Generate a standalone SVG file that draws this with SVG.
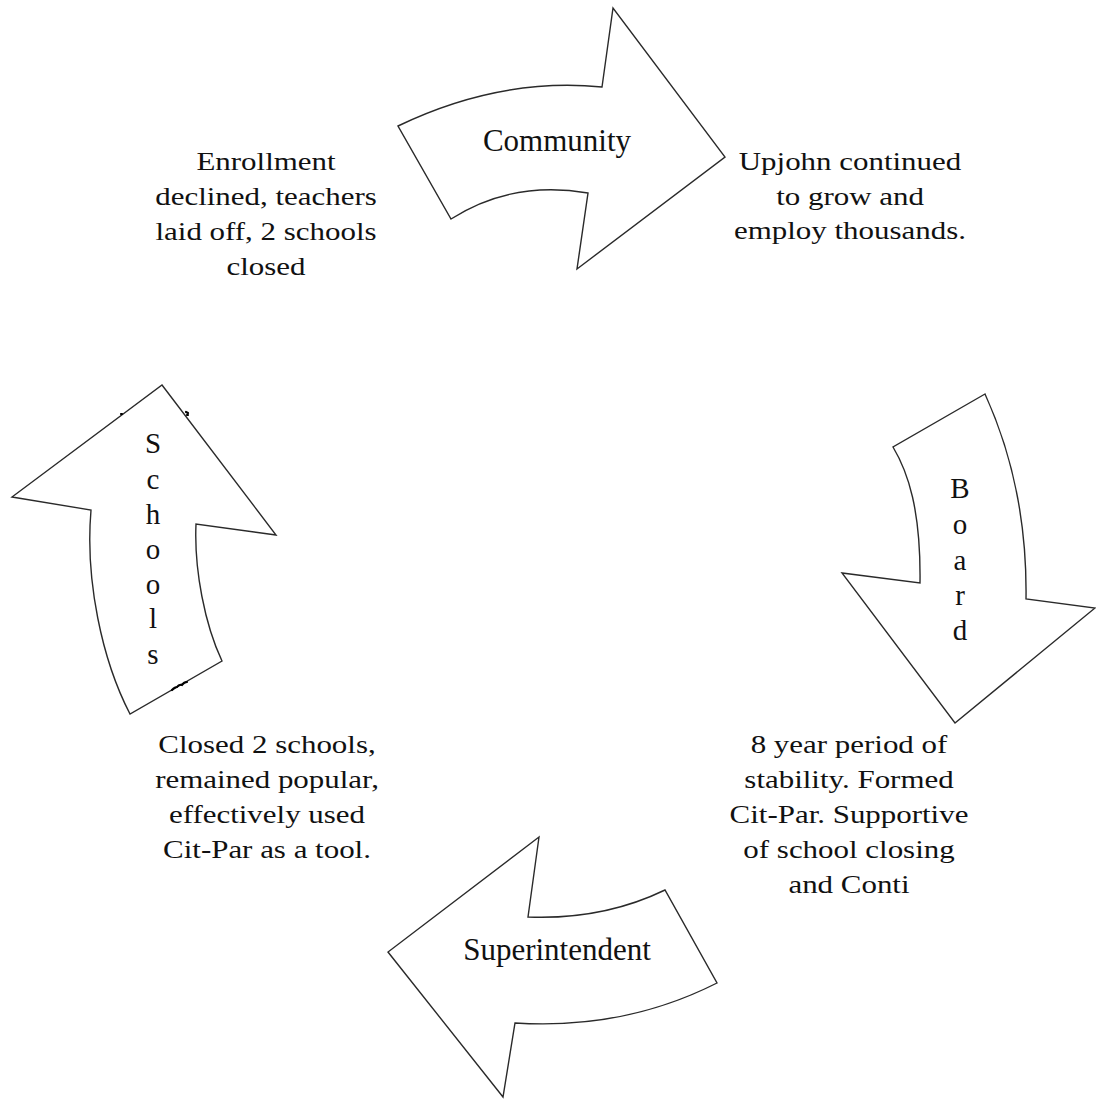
<svg xmlns="http://www.w3.org/2000/svg" width="1096" height="1099" viewBox="0 0 1096 1099">
  <style>
    .arrow { fill: #ffffff; stroke: #2a2a2a; stroke-width: 1.4; stroke-linejoin: miter; }
    .label { font-family: "Liberation Serif", "Times New Roman", serif; font-size: 31px; fill: #111111; text-anchor: middle; }
    .vlabel { font-family: "Liberation Serif", "Times New Roman", serif; font-size: 29px; fill: #111111; text-anchor: middle; }
    .note { font-family: "Liberation Serif", "Times New Roman", serif; font-size: 26px; fill: #111111; text-anchor: middle; }
    .speck { fill: none; stroke: #000000; stroke-width: 2.2; stroke-linecap: round; }
  </style>
  <rect width="1096" height="1099" fill="#ffffff"/>

  <!-- Curved block arrows forming the cycle -->
  <g id="connectors">
    <g id="arrow-community">
      <path class="arrow" d="M398,126 Q500,77 602,87 L613,8 L725,157 L577,269 L588,193 Q512,180 451,219 Z"/>
      <text class="label" x="557" y="151">Community</text>
    </g>
    <g id="arrow-board">
      <path class="arrow" d="M985,394 L893,447 C908,472 921,510 920,583 L842,573 L955,723 L1095,608 L1026,599 C1027,530 1015,460 985,394 Z"/>
      <text class="vlabel" x="960" y="498">B</text>
      <text class="vlabel" x="960" y="534">o</text>
      <text class="vlabel" x="960" y="570">a</text>
      <text class="vlabel" x="960" y="605">r</text>
      <text class="vlabel" x="960" y="640">d</text>
    </g>
    <g id="arrow-superintendent">
      <path class="arrow" d="M539,837 L528,917 Q603,920 665,890 L717,983 Q624,1030 515,1023 L503,1097 L388,952 Z"/>
      <text class="label" x="557" y="960">Superintendent</text>
    </g>
    <g id="arrow-schools">
      <path class="arrow" d="M162,385 L276,535 L196,524 C194,570 205,625 222,661 L130,714 C102,660 85,580 91,510 L12,497 Z"/>
      <path class="speck" d="M121,414 l1,0 M186,412 l2,1 M187,415 l1,0 M172,690 q3,-3 5,-3 q2,-3 5,-2 q2,-3 5,-3"/>
      <text class="vlabel" x="153" y="453">S</text>
      <text class="vlabel" x="153" y="489">c</text>
      <text class="vlabel" x="153" y="524">h</text>
      <text class="vlabel" x="153" y="559">o</text>
      <text class="vlabel" x="153" y="594">o</text>
      <text class="vlabel" x="153" y="628">l</text>
      <text class="vlabel" x="153" y="664">s</text>
    </g>
  </g>

  <!-- Outcome notes between the arrows -->
  <g id="node-enrollment" transform="translate(266,0) scale(1.19,1)">
    <text class="note" x="0" y="170">Enrollment</text>
    <text class="note" x="0" y="205">declined, teachers</text>
    <text class="note" x="0" y="240">laid off, 2 schools</text>
    <text class="note" x="0" y="275">closed</text>
  </g>
  <g id="node-upjohn" transform="translate(850,0) scale(1.19,1)">
    <text class="note" x="0" y="170">Upjohn continued</text>
    <text class="note" x="0" y="205">to grow and</text>
    <text class="note" x="0" y="239">employ thousands.</text>
  </g>
  <g id="node-stability" transform="translate(849,0) scale(1.19,1)">
    <text class="note" x="0" y="753">8 year period of</text>
    <text class="note" x="0" y="788">stability. Formed</text>
    <text class="note" x="0" y="823">Cit-Par. Supportive</text>
    <text class="note" x="0" y="858">of school closing</text>
    <text class="note" x="0" y="893">and Conti</text>
  </g>
  <g id="node-closed" transform="translate(267,0) scale(1.19,1)">
    <text class="note" x="0" y="753">Closed 2 schools,</text>
    <text class="note" x="0" y="788">remained popular,</text>
    <text class="note" x="0" y="823">effectively used</text>
    <text class="note" x="0" y="858">Cit-Par as a tool.</text>
  </g>
</svg>
